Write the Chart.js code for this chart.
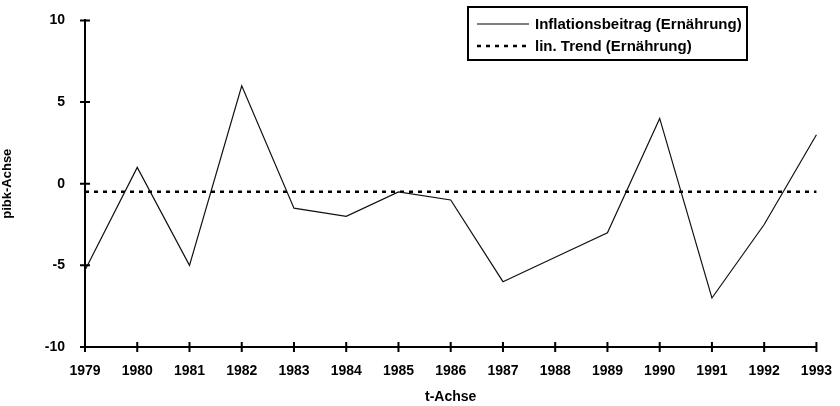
<!DOCTYPE html>
<html>
<head>
<meta charset="utf-8">
<script src="https://cdn.jsdelivr.net/npm/chart.js@4"></script>
<style>
  html, body { margin: 0; padding: 0; background: #fff; }
  #wrap { width: 840px; height: 406px; }
</style>
</head>
<body>
<div id="wrap"><canvas id="chart" width="840" height="406"></canvas></div>
<script>
// Data
const years = ['1979', '1980', '1981', '1982', '1983', '1984', '1985', '1986',
               '1987', '1988', '1989', '1990', '1991', '1992', '1993'];
const beitrag = [-5.3, 1, -5, 6, -1.5, -2, -0.5, -1, -6, -4.5, -3, 4, -7, -2.5, 3];
const trend = [-0.5, -0.5, -0.5, -0.5, -0.5, -0.5, -0.5, -0.5, -0.5, -0.5, -0.5, -0.5, -0.5, -0.5, -0.5];
const yTicks = [-10, -5, 0, 5, 10];

const FONT = 'Liberation Sans, Arial, sans-serif';

// Draws tick marks that cross both axes and the boxed legend
const decorations = {
    id: 'decorations',
    afterDraw(chart) {
        const ctx = chart.ctx;
        const area = chart.chartArea;
        const xs = chart.scales.x;
        const ys = chart.scales.y;
        ctx.save();
        ctx.strokeStyle = '#000';
        ctx.lineWidth = 2;
        ctx.beginPath();
        for (let i = 0; i < years.length; i++) {
            const x = xs.getPixelForValue(i);
            ctx.moveTo(x, area.bottom - 5);
            ctx.lineTo(x, area.bottom + 5);
        }
        yTicks.forEach(v => {
            const y = ys.getPixelForValue(v);
            ctx.moveTo(area.left - 5, y);
            ctx.lineTo(area.left + 5, y);
        });
        ctx.stroke();

        // legend box
        const bx = 468, by = 7, bw = 279, bh = 53;
        ctx.lineWidth = 2;
        ctx.strokeRect(bx, by, bw, bh);
        ctx.font = 'bold 15px ' + FONT;
        ctx.fillStyle = '#000';
        ctx.textBaseline = 'middle';
        const rows = [24, 46];
        chart.data.datasets.forEach((ds, i) => {
            const y = rows[i];
            ctx.beginPath();
            ctx.lineWidth = ds.borderWidth;
            ctx.setLineDash(ds.borderDash || []);
            ctx.moveTo(477, y);
            ctx.lineTo(529, y);
            ctx.stroke();
            ctx.setLineDash([]);
            ctx.fillText(ds.label, 535, y + 1);
        });
        ctx.restore();
    }
};

const chart = new Chart(document.getElementById('chart'), {
    type: 'line',
    data: {
        labels: years,
        datasets: [
            {
                label: 'Inflationsbeitrag (Ernährung)',
                data: beitrag,
                borderColor: '#111',
                borderWidth: 1.2,
                pointRadius: 0,
                tension: 0,
                fill: false
            },
            {
                label: 'lin. Trend (Ernährung)',
                data: trend,
                borderColor: '#000',
                borderWidth: 2.5,
                borderDash: [4, 5],
                pointRadius: 0,
                tension: 0,
                fill: false
            }
        ]
    },
    options: {
        responsive: false,
        animation: false,
        layout: { padding: { left: 0, right: 22, top: 20, bottom: 0 } },
        plugins: {
            legend: { display: false },
            tooltip: { enabled: false }
        },
        scales: {
            x: {
                offset: false,
                grid: { display: false },
                border: { display: true, color: '#000', width: 2 },
                ticks: {
                    color: '#000',
                    padding: 8,
                    maxRotation: 0,
                    autoSkip: false,
                    font: { family: FONT, size: 14, weight: 'bold' }
                },
                title: {
                    display: true,
                    text: 't-Achse',
                    color: '#000',
                    padding: { top: 3, bottom: 0 },
                    font: { family: FONT, size: 14, weight: 'bold' }
                },
                afterFit(scale) { scale.height = 59; }
            },
            y: {
                min: -10,
                max: 10,
                grid: { display: false },
                border: { display: true, color: '#000', width: 2 },
                afterBuildTicks(scale) { scale.ticks = yTicks.map(v => ({ value: v })); },
                ticks: {
                    color: '#000',
                    padding: 12,
                    font: { family: FONT, size: 14, weight: 'bold' }
                },
                title: {
                    display: true,
                    text: 'pibk-Achse',
                    color: '#000',
                    padding: { top: 0, bottom: 0 },
                    font: { family: FONT, size: 13, weight: 'bold' }
                },
                afterFit(scale) { scale.width = 85; }
            }
        }
    },
    plugins: [decorations]
});
</script>
</body>
</html>
